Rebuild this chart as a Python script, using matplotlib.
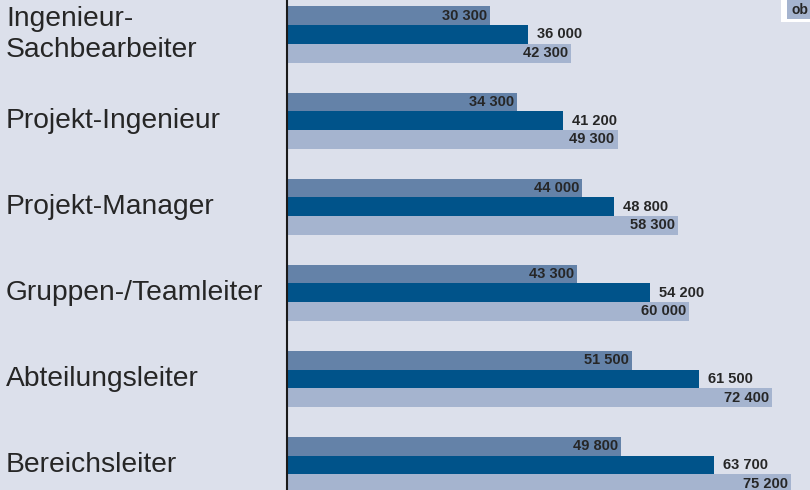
import matplotlib.pyplot as plt
import numpy as np
from matplotlib.patches import Rectangle
from matplotlib.transforms import blended_transform_factory

# data
positions = ['Ingenieur-\nSachbearbeiter', 'Projekt-Ingenieur', 'Projekt-Manager',
             'Gruppen-/Teamleiter', 'Abteilungsleiter', 'Bereichsleiter']
lower = [30300, 34300, 44000, 43300, 51500, 49800]
median = [36000, 41200, 48800, 54200, 61500, 63700]
upper = [42300, 49300, 58300, 60000, 72400, 75200]

bg = '#dce0eb'
c_low = '#6482a8'
c_mid = '#00538a'
c_up = '#a5b4cf'
txt = '#262626'

plt.rcParams['font.family'] = ['Liberation Sans', 'DejaVu Sans']

fig = plt.figure(figsize=(8.1, 4.9), dpi=100)
fig.patch.set_facecolor(bg)
ax = fig.add_axes([287 / 810, 0, 1 - 287 / 810, 1])
ax.set_facecolor(bg)

y = np.arange(len(positions))
h = 0.217
ax.barh(y - h, lower, height=h, color=c_low)
ax.barh(y, median, height=h, color=c_mid)
ax.barh(y + h, upper, height=h, color=c_up)

ax.set_xlim(0, 78000)
ax.set_ylim((490 - 34.5) / 86.1, -34.5 / 86.1)

px = 78000 / 523  # data units per pixel
for i in range(len(positions)):
    ax.text(lower[i] - 3 * px, y[i] - h, f'{lower[i]:,}'.replace(',', ' '),
            ha='right', va='center', fontsize=10.5, fontweight='bold', color=txt)
    ax.text(median[i] + 9 * px, y[i], f'{median[i]:,}'.replace(',', ' '),
            ha='left', va='center', fontsize=10.5, fontweight='bold', color=txt)
    ax.text(upper[i] - 3 * px, y[i] + h, f'{upper[i]:,}'.replace(',', ' '),
            ha='right', va='center', fontsize=10.5, fontweight='bold', color=txt)

trans = blended_transform_factory(fig.transFigure, ax.transData)
for i, name in enumerate(positions):
    ax.text(6 / 810, y[i], name, transform=trans, ha='left', va='center',
            fontsize=20.3, color=txt, linespacing=1.25, clip_on=False)

for s in ['top', 'right', 'bottom']:
    ax.spines[s].set_visible(False)
ax.spines['left'].set_linewidth(1.5)
ax.spines['left'].set_color('#1a1a1a')
ax.set_xticks([])
ax.set_yticks([])

# legend fragment at top right
fig.patches.append(Rectangle((781 / 810, 1 - 22.5 / 490), 40 / 810, 30 / 490,
                             transform=fig.transFigure, facecolor='white', edgecolor='none'))
fig.patches.append(Rectangle((787 / 810, 1 - 19 / 490), 40 / 810, 30 / 490,
                             transform=fig.transFigure, facecolor=c_up, edgecolor='none'))
fig.text(791 / 810, 1 - 10 / 490, 'ob', ha='left', va='center', fontsize=10,
         fontweight='bold', color=txt)

fig.savefig('out.png', dpi=100, facecolor=bg)
